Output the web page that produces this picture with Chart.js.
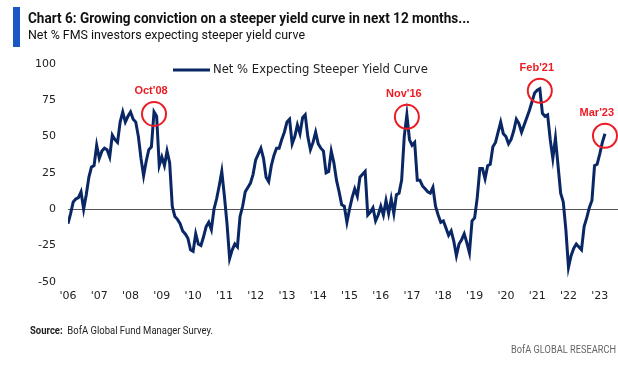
<!DOCTYPE html>
<html>
<head>
<meta charset="utf-8">
<script src="https://cdn.jsdelivr.net/npm/chart.js@4.4.0/dist/chart.umd.min.js"></script>
<style>
  body { margin: 0; background: #fff; }
  #wrap { position: relative; width: 618px; height: 372px; overflow: hidden; font-family: 'Liberation Sans Narrow', 'Roboto', 'Liberation Sans', sans-serif; }
  #grafico { position: absolute; left: 0; top: 0; }
  #bar { position: absolute; left: 13px; top: 7px; width: 7px; height: 40px; background: #1a56c4; }
  .txt { position: absolute; white-space: nowrap; line-height: 1; transform-origin: left top; color: #111; }
  #titulo { left: 28px; top: 11px; font-size: 15px; font-weight: bold; }
  #subtitulo { left: 28px; top: 28px; font-size: 13px; }
  #fuente { left: 30px; top: 325px; font-size: 11px; color: #222; }
  #marca { left: 511px; top: 344px; font-size: 11px; color: #666; }
</style>
</head>
<body>
<div id="wrap">
  <canvas id="grafico" width="618" height="372"></canvas>
  <div id="bar"></div>
  <div id="titulo" class="txt">Chart 6: Growing conviction on a steeper yield curve in next 12 months...</div>
  <div id="subtitulo" class="txt">Net % FMS investors expecting steeper yield curve</div>
  <div id="fuente" class="txt"><b>Source:</b>&nbsp; BofA Global Fund Manager Survey.</div>
  <div id="marca" class="txt">BofA GLOBAL RESEARCH</div>
</div>
<script>
// etiquetas de los años (una por enero)
const anios = ["'06", "'07", "'08", "'09", "'10", "'11", "'12", "'13", "'14", "'15", "'16", "'17", "'18", "'19", "'20", "'21", "'22", "'23"];

// Net % expecting steeper yield curve, mensual (ene..dic)
const v2006 = [-10, -3, 5, 7, 8, 12, 0, 10, 22, 29, 30, 44];
const v2007 = [35, 40, 42, 41, 36, 51, 48, 46, 60, 67, 60, 64];
const v2008 = [67, 62, 60, 50, 35, 23, 33, 41, 43, 67, 64, 30];
const v2009 = [36, 30, 40, 32, 2, -5, -7, -10, -15, -17, -20, -28];
const v2010 = [-29, -17, -24, -25, -19, -12, -9, -14, 0, 7, 16, 26];
const v2011 = [9, -10, -34, -28, -24, -26, -5, 2, 12, 15, 18, 24];
const v2012 = [34, 38, 42, 35, 22, 19, 30, 37, 42, 42, 48, 53];
const v2013 = [60, 62, 45, 50, 58, 52, 63, 65, 50, 41, 46, 53];
const v2014 = [45, 42, 40, 25, 26, 40, 32, 20, 12, 3, 2, -9];
const v2015 = [0, 8, 14, 9, 22, 24, 26, -4, -2, 1, -8, -4];
const v2016 = [2, -4, 6, -3, 7, -3, 10, 11, 20, 50, 65, 48];
const v2017 = [44, 46, 20, 20, 16, 14, 12, 11, 15, 2, -4, -9];
const v2018 = [-8, -13, -18, -15, -22, -32, -24, -21, -17, -23, -30, -8];
const v2019 = [-6, 8, 28, 28, 21, 30, 31, 43, 46, 53, 60, 52];
const v2020 = [50, 45, 48, 54, 62, 59, 53, 58, 63, 68, 74, 80];
const v2021 = [82, 83, 66, 64, 65, 48, 35, 49, 30, 11, 5, -14];
const v2022 = [-40, -32, -27, -24, -26, -28, -12, -6, 1, 6, 30, 31];
const v2023 = [38, 46, 52];

// notas en rojo (indice del mes desde ene'06)
const notasMes = [33, 130, 181, 206];
const notasTexto = ["Oct'08", "Nov'16", "Feb'21", "Mar'23"];

const serie = [].concat(v2006, v2007, v2008, v2009, v2010, v2011, v2012, v2013, v2014,
  v2015, v2016, v2017, v2018, v2019, v2020, v2021, v2022, v2023);
const puntos = serie.map((v, i) => ({ x: i, y: v }));

const rojo = '#ec1c24';
const azul = '#0a2765';

const notas = {
  id: 'notas',
  afterDatasetsDraw(chart) {
    const ctx = chart.ctx;
    const xs = chart.scales.x;
    const ys = chart.scales.y;
    ctx.save();
    notasMes.forEach((m, i) => {
      const px = xs.getPixelForValue(m);
      const py = ys.getPixelForValue(serie[m]);
      ctx.strokeStyle = rojo;
      ctx.lineWidth = 2;
      ctx.beginPath();
      ctx.arc(px, py + 2, 12, 0, Math.PI * 2);
      ctx.stroke();
      ctx.font = 'bold 11px "Liberation Sans", Arial, sans-serif';
      ctx.fillStyle = rojo;
      ctx.textAlign = 'center';
      ctx.textBaseline = 'middle';
      const w = ctx.measureText(notasTexto[i]).width;
      let tx = Math.min(px - 3, chart.width - 4 - w / 2);
      ctx.fillText(notasTexto[i], tx, py - 21);
    });
    // leyenda
    const ds = chart.data.datasets[0];
    ctx.strokeStyle = ds.borderColor;
    ctx.lineWidth = 3;
    ctx.beginPath();
    ctx.moveTo(173, 70);
    ctx.lineTo(210, 70);
    ctx.stroke();
    ctx.font = '11px "DejaVu Sans", sans-serif';
    const tam = 11 * 215 / ctx.measureText(ds.label).width;
    ctx.font = tam.toFixed(2) + 'px "DejaVu Sans", sans-serif';
    ctx.fillStyle = '#222';
    ctx.textAlign = 'left';
    ctx.textBaseline = 'middle';
    ctx.fillText(ds.label, 213, 70);
    ctx.restore();
  }
};

const fuenteTicks = { family: 'DejaVu Sans', size: 11 };

new Chart(document.getElementById('grafico'), {
  type: 'line',
  data: {
    datasets: [{
      label: 'Net % Expecting Steeper Yield Curve',
      data: puntos,
      borderColor: azul,
      borderWidth: 3,
      pointRadius: 0,
      tension: 0,
      fill: false
    }]
  },
  options: {
    responsive: false,
    animation: false,
    devicePixelRatio: 1,
    layout: { padding: { top: 64, right: 0, bottom: 61, left: 0 } },
    plugins: { legend: { display: false }, tooltip: { enabled: false } },
    scales: {
      x: {
        type: 'linear', min: 0, max: 211,
        grid: { display: false, drawTicks: false },
        border: { display: false },
        ticks: {
          stepSize: 12, includeBounds: false, autoSkip: false, maxRotation: 0, padding: 8,
          color: '#222', font: fuenteTicks,
          callback: v => (v % 12 === 0 && anios[v / 12]) ? anios[v / 12] : ''
        }
      },
      y: {
        min: -50, max: 100,
        afterFit: s => { s.width = 68; },
        grid: { drawTicks: false, lineWidth: 1, color: c => c.tick && c.tick.value === 0 ? '#555' : 'rgba(0,0,0,0)' },
        border: { display: false },
        ticks: { stepSize: 25, padding: 12, color: '#222', font: fuenteTicks }
      }
    }
  },
  plugins: [notas]
});

// ajustar anchos de los textos al original
function ajustar(id, ancho) {
  const el = document.getElementById(id);
  const w = el.getBoundingClientRect().width;
  if (w > 0) el.style.transform = 'scaleX(' + (ancho / w) + ')';
}
ajustar('titulo', 442);
ajustar('subtitulo', 277);
ajustar('fuente', 183);
ajustar('marca', 105);
</script>
</body>
</html>
